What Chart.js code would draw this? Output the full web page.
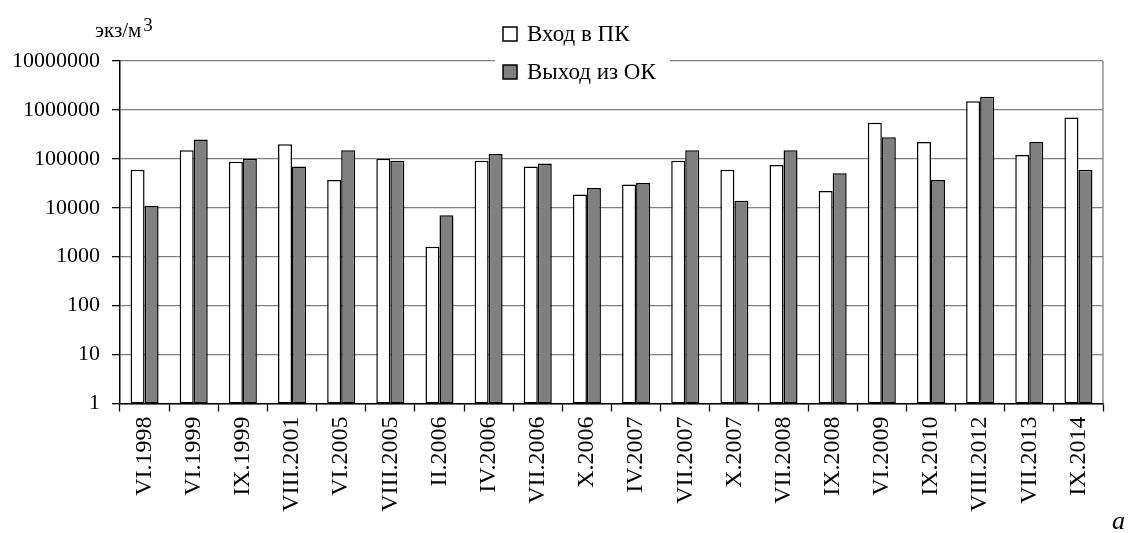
<!DOCTYPE html>
<html>
<head>
<meta charset="utf-8">
<script src="https://cdn.jsdelivr.net/npm/chart.js@4"></script>
<style>
  html, body { margin: 0; padding: 0; background: #ffffff; }
  #wrap { width: 1130px; height: 533px; position: relative; }
</style>
</head>
<body>
<div id="wrap"><canvas id="chart" width="1130" height="533"></canvas></div>
<script>
// Sampling dates (month.year)
const categories = ['VI.1998','VI.1999','IX.1999','VIII.2001','VI.2005','VIII.2005','II.2006','IV.2006','VII.2006','X.2006',
                    'IV.2007','VII.2007','X.2007','VII.2008','IX.2008','VI.2009','IX.2010','VIII.2012','VII.2013','IX.2014'];
// Abundance, ind./m3
const inflowValues  = [60000, 150000, 87000, 200000, 37000, 100000, 1600, 92000, 70000, 18700,
                       30000, 92000, 60000, 75000, 22000, 550000, 220000, 1500000, 120000, 700000];
const outflowValues = [11000, 250000, 100000, 70000, 150000, 92000, 7000, 125000, 80000, 25500,
                       32000, 150000, 14000, 150000, 51000, 275000, 37000, 1850000, 220000, 60000];
const seriesNames = ['Вход в ПК', 'Выход из ОК'];
const yTickValues = [1, 10, 100, 1000, 10000, 100000, 1000000, 10000000];
const unitLabel = 'экз/м';
const unitPower = '3';
const panelLetter = 'a';

const SERIF = '"Liberation Serif", "Times New Roman", serif';

// Legend, unit caption, panel letter and right frame line
const decorations = {
  id: 'decorations',
  afterDraw(chart) {
    const ctx = chart.ctx;
    const area = chart.chartArea;
    ctx.save();
    // right frame line
    ctx.strokeStyle = '#808080';
    ctx.lineWidth = 1.3;
    ctx.beginPath();
    ctx.moveTo(area.right, area.top);
    ctx.lineTo(area.right, area.bottom);
    ctx.stroke();

    // legend block over the top grid line
    ctx.fillStyle = '#ffffff';
    ctx.fillRect(495, 14, 175, 72);
    const rows = [34, 72];
    chart.data.datasets.forEach((ds, i) => {
      const cy = rows[i];
      ctx.fillStyle = ds.backgroundColor;
      ctx.fillRect(503, cy - 7, 14, 14);
      ctx.strokeStyle = '#000000';
      ctx.lineWidth = 1.5;
      ctx.strokeRect(503, cy - 7, 14, 14);
      ctx.fillStyle = '#000000';
      ctx.font = '23px ' + SERIF;
      ctx.textAlign = 'left';
      ctx.textBaseline = 'middle';
      ctx.fillText(ds.label, 527, cy + 1);
    });

    // unit caption
    ctx.fillStyle = '#000000';
    ctx.textAlign = 'left';
    ctx.textBaseline = 'alphabetic';
    ctx.font = '21px ' + SERIF;
    ctx.fillText(unitLabel, 95, 37);
    const w = ctx.measureText(unitLabel).width;
    ctx.font = '19px ' + SERIF;
    ctx.fillText(unitPower, 95 + w + 2, 31);

    // panel letter
    ctx.font = 'italic 26px ' + SERIF;
    ctx.fillText(panelLetter, 1112, 529);
    ctx.restore();
  }
};

new Chart(document.getElementById('chart'), {
  type: 'bar',
  data: {
    labels: categories,
    datasets: [
      {
        label: seriesNames[0],
        data: inflowValues,
        backgroundColor: '#ffffff',
        borderColor: '#000000',
        borderWidth: 1.5,
        borderSkipped: false
      },
      {
        label: seriesNames[1],
        data: outflowValues,
        backgroundColor: '#808080',
        borderColor: '#000000',
        borderWidth: 1.5,
        borderSkipped: false
      }
    ]
  },
  options: {
    responsive: false,
    animation: false,
    devicePixelRatio: 1,
    layout: { padding: { top: 61, right: 27, bottom: 0, left: 0 } },
    datasets: { bar: { categoryPercentage: 0.57, barPercentage: 1.0 } },
    plugins: {
      legend: { display: false },
      tooltip: { enabled: false }
    },
    scales: {
      x: {
        offset: true,
        grid: {
          offset: true,
          drawOnChartArea: false,
          drawTicks: true,
          tickLength: 8,
          tickColor: '#000000',
          tickWidth: 1.3
        },
        border: { color: '#000000', width: 1.5 },
        ticks: {
          minRotation: 90,
          maxRotation: 90,
          autoSkip: false,
          padding: 5,
          color: '#000000',
          font: { family: SERIF, size: 24 }
        },
        afterFit(scale) { scale.height = 129.5; }
      },
      y: {
        type: 'logarithmic',
        min: 1,
        max: 10000000,
        afterBuildTicks(scale) {
          scale.ticks = yTickValues.map(v => ({ value: v, major: false }));
        },
        grid: {
          color: '#808080',
          lineWidth: 1.3,
          tickLength: 8,
          tickColor: '#000000',
          tickWidth: 1.3
        },
        border: { color: '#000000', width: 1.5 },
        ticks: {
          padding: 12,
          color: '#000000',
          font: { family: SERIF, size: 22 },
          callback: (v) => String(v)
        },
        afterFit(scale) { scale.width = 120; }
      }
    }
  },
  plugins: [decorations]
});
</script>
</body>
</html>
